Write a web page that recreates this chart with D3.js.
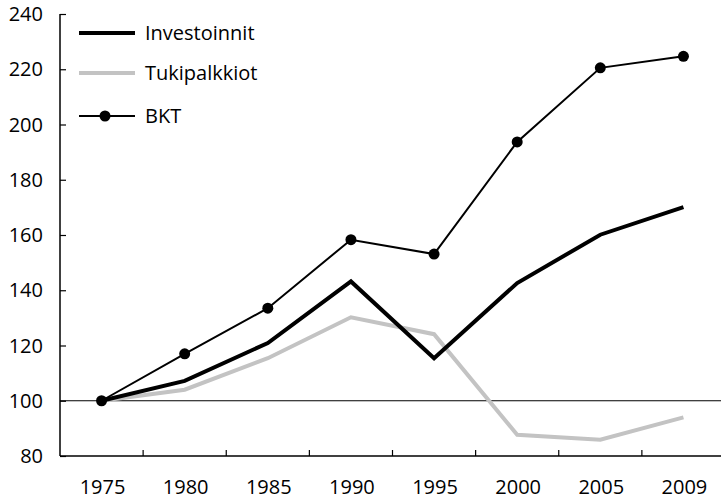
<!DOCTYPE html>
<html>
<head>
<meta charset="utf-8">
<script src="https://cdn.jsdelivr.net/npm/d3@7"></script>
<style>
  body { margin: 0; background: #fff; }
  text { font-family: "Open Sans", sans-serif; fill: #000; }
</style>
</head>
<body>
<svg id="chart" width="721" height="499"></svg>
<script>
'use strict';

var years        = ['1975', '1980', '1985', '1990', '1995', '2000', '2005', '2009'];
var investoinnit = [100, 107.2, 120.9, 143.2, 115.4, 142.6, 160.1, 170.1];
var tukipalkkiot = [100, 104.0, 115.4, 130.2, 124.1, 87.7, 85.9, 94.0];
var bkt          = [100, 117.0, 133.5, 158.3, 153.1, 193.7, 220.5, 224.7];
var yTicks       = [80, 100, 120, 140, 160, 180, 200, 220, 240];

var series = [
  { name: 'Investoinnit', values: investoinnit, color: '#000', width: 4, dots: false },
  { name: 'Tukipalkkiot', values: tukipalkkiot, color: '#c3c3c3', width: 4, dots: false },
  { name: 'BKT', values: bkt, color: '#000', width: 2, dots: true }
];

var svg = d3.select('#chart');
var plotLeft = 60, plotRight = 725, plotTop = 14, plotBottom = 456;

var x = d3.scaleBand().domain(years).range([plotLeft, plotRight]);
var y = d3.scaleLinear().domain([80, 240]).range([plotBottom, plotTop]);

function cx(i) { return x(years[i]) + x.bandwidth() / 2; }

// reference line at 100
svg.append('line')
  .attr('x1', plotLeft).attr('x2', 721)
  .attr('y1', y(100)).attr('y2', y(100))
  .attr('stroke', '#000').attr('stroke-width', 1.2);

// y axis, ticks pointing inward
var yAxis = svg.append('g')
  .attr('transform', 'translate(' + plotLeft + ',0)')
  .call(d3.axisRight(y).tickValues(yTicks).tickSize(6).tickFormat(''));
yAxis.select('.domain').attr('d', 'M0,' + plotTop + 'V' + plotBottom).attr('stroke-width', 1.5);
yAxis.selectAll('.tick line').attr('stroke-width', 1.2);

svg.append('g').selectAll('text')
  .data(yTicks)
  .enter().append('text')
    .attr('x', 43)
    .attr('y', function (d) { return y(d); })
    .attr('dy', '0.36em')
    .attr('text-anchor', 'end')
    .style('font-size', '20px')
    .text(function (d) { return d; });

// x axis, ticks between categories
var xAxis = svg.append('g')
  .attr('transform', 'translate(0,' + plotBottom + ')')
  .call(d3.axisTop(x).tickSize(0).tickFormat(''));
xAxis.select('.domain').attr('d', 'M' + plotLeft + ',0H721').attr('stroke-width', 1.5);
xAxis.selectAll('.tick').remove();
xAxis.selectAll('.sep')
  .data(years.slice(1))
  .enter().append('line')
    .attr('class', 'sep')
    .attr('x1', function (d) { return x(d); })
    .attr('x2', function (d) { return x(d); })
    .attr('y1', 0).attr('y2', -6)
    .attr('stroke', '#000').attr('stroke-width', 1.2);

svg.append('g').selectAll('text')
  .data(years)
  .enter().append('text')
    .attr('x', function (d, i) { return cx(i) + 1; })
    .attr('y', 494)
    .attr('text-anchor', 'middle')
    .style('font-size', '20px')
    .text(function (d) { return d; });

var line = d3.line()
  .x(function (d, i) { return cx(i); })
  .y(function (d) { return y(d); });

// draw grey first, then black lines on top
[series[1], series[0], series[2]].forEach(function (s) {
  svg.append('path')
    .datum(s.values)
    .attr('fill', 'none')
    .attr('stroke', s.color)
    .attr('stroke-width', s.width)
    .attr('stroke-linejoin', 'miter')
    .attr('d', line);
  if (s.dots) {
    svg.append('g').selectAll('circle')
      .data(s.values)
      .enter().append('circle')
        .attr('cx', function (d, i) { return cx(i); })
        .attr('cy', function (d) { return y(d); })
        .attr('r', 5.5)
        .attr('fill', '#000');
  }
});

// legend
var legendY = [33, 73, 116];
var legend = svg.append('g').selectAll('g')
  .data(series)
  .enter().append('g')
    .attr('transform', function (d, i) { return 'translate(79,' + legendY[i] + ')'; });
legend.append('line')
  .attr('x1', 0).attr('x2', 56)
  .attr('stroke', function (d) { return d.color; })
  .attr('stroke-width', function (d) { return d.width; });
legend.filter(function (d) { return d.dots; }).append('circle')
  .attr('cx', 26).attr('r', 5.5).attr('fill', '#000');
legend.append('text')
  .attr('x', 66)
  .attr('dy', '0.36em')
  .style('font-size', '20px')
  .text(function (d) { return d.name; });
</script>
</body>
</html>
